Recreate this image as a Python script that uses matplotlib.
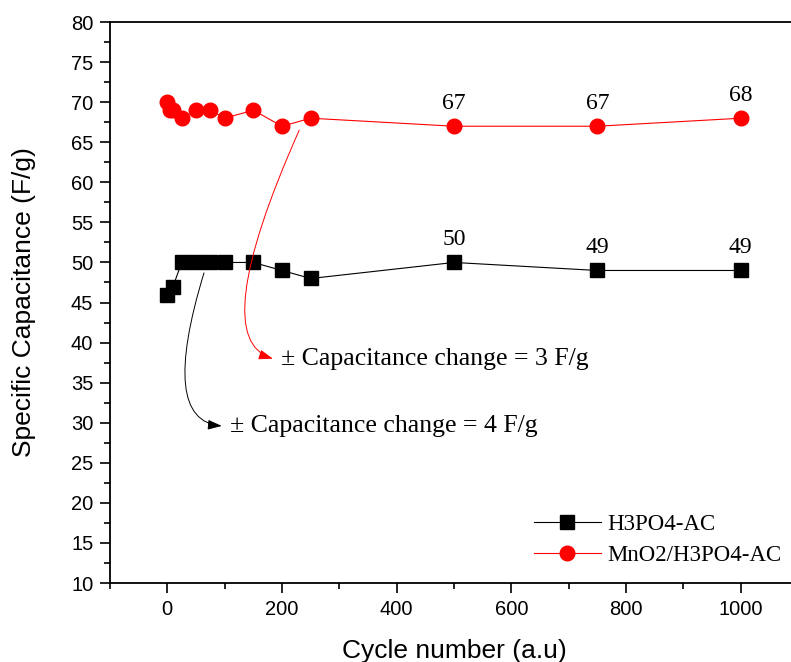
import matplotlib
matplotlib.use('Agg')
import matplotlib.pyplot as plt
from matplotlib.ticker import MultipleLocator

# cycle data
cycles_h3 = [0, 10, 25, 50, 75, 100, 150, 200, 250, 500, 750, 1000]
cap_h3 = [46, 47, 50, 50, 50, 50, 50, 49, 48, 50, 49, 49]

cycles_mn = [0, 5, 10, 25, 50, 75, 100, 150, 200, 250, 500, 750, 1000]
cap_mn = [70, 69, 69, 68, 69, 69, 68, 69, 67, 68, 67, 67, 68]

label_h3 = 'H3PO4-AC'
label_mn = 'MnO2/H3PO4-AC'
note_mn = '± Capacitance change = 3 F/g'
note_h3 = '± Capacitance change = 4 F/g'
labelled_cycles = [500, 750, 1000]

serif = 'Liberation Serif'
sans = 'Liberation Sans'

fig = plt.figure(figsize=(7.91, 6.62), dpi=100)
ax = fig.add_axes([0.139, 0.1193, 0.87, 0.8474])

ax.plot(cycles_h3, cap_h3, color='black', lw=0.8, marker='s', ms=9.5,
        label=label_h3)
ax.plot(cycles_mn, cap_mn, color='red', lw=0.8, marker='o', ms=10.5,
        label=label_mn)

for xs, ys in [(cycles_mn, cap_mn), (cycles_h3, cap_h3)]:
    for x, y in zip(xs, ys):
        if x in labelled_cycles:
            ax.annotate(str(y), (x, y), xytext=(0, 9), textcoords='offset points',
                        ha='center', va='bottom', fontsize=17, family=serif)

# curved arrows pointing at the notes
head = '-|>,head_length=0.85,head_width=0.3'
ax.annotate('', xy=(184, 38), xytext=(230, 66.5),
            arrowprops=dict(arrowstyle=head, color='red', lw=0.7,
                            shrinkA=0, shrinkB=0,
                            connectionstyle='angle3,angleA=-114,angleB=-17'))
ax.text(199, 38, note_mn, fontsize=18.5, family=serif, va='center', ha='left')

ax.annotate('', xy=(95, 29.6), xytext=(64, 48.7),
            arrowprops=dict(arrowstyle=head, color='black', lw=0.7,
                            shrinkA=0, shrinkB=0,
                            connectionstyle='angle3,angleA=-107,angleB=-5'))
ax.text(110, 29.6, note_h3, fontsize=18.5, family=serif, va='center', ha='left')

ax.set_xlim(-100, 1100)
ax.set_ylim(10, 80)
ax.xaxis.set_major_locator(MultipleLocator(200))
ax.xaxis.set_minor_locator(MultipleLocator(100))
ax.yaxis.set_major_locator(MultipleLocator(5))
ax.yaxis.set_minor_locator(MultipleLocator(2.5))
ax.tick_params(which='major', direction='out', length=7.5, width=1.2,
               labelsize=14.5)
ax.tick_params(which='minor', direction='out', length=4.5, width=1.2)
ax.tick_params(axis='x', which='major', pad=5)
ax.tick_params(axis='y', which='major', pad=4.5)
for lbl in ax.get_xticklabels() + ax.get_yticklabels():
    lbl.set_family(sans)
for sp in ax.spines.values():
    sp.set_linewidth(1.3)

ax.set_xlabel('Cycle number (a.u)', fontsize=19, family=sans, labelpad=14)
ax.set_ylabel('Specific Capacitance (F/g)', fontsize=19, family=sans, labelpad=25)

leg = ax.legend(loc='lower right', bbox_to_anchor=(1.006, -0.006), frameon=False,
                prop={'family': serif, 'size': 16.5}, handlelength=2.9,
                handletextpad=0.3, labelspacing=0.42)

fig.savefig('out.png', dpi=100)
